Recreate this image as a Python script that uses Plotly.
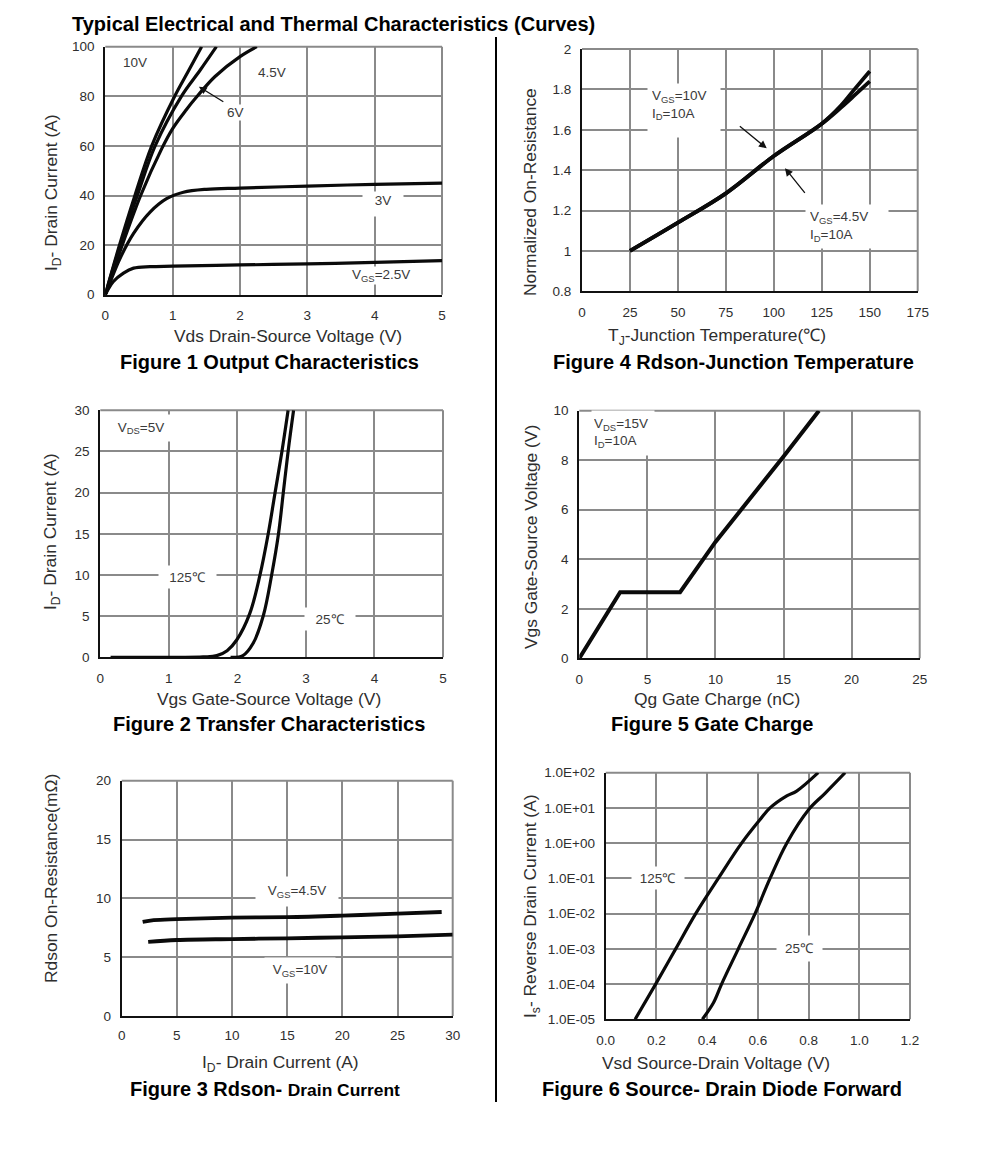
import plotly.graph_objects as go

W, H = 991, 1149
FONT = "Liberation Sans, Arial, sans-serif"
TXT = "#2e2e2e"
GRID = "#8a8a8a"

# ---- Figure 1: output characteristics
f1_10v_x = [0, 0.2, 0.44, 0.69, 1.03, 1.23, 1.43]
f1_10v_y = [0, 19, 40, 60, 80, 90, 100]
f1_6v_x = [0, 0.2, 0.475, 0.74, 1.13, 1.41, 1.65]
f1_6v_y = [0, 18, 40, 60, 80, 90.6, 100]
f1_45v_x = [0, 0.2, 0.525, 0.84, 1.0, 1.2, 1.38, 1.63, 2.0, 2.25]
f1_45v_y = [0, 16, 40, 59, 67, 74.5, 80.5, 88, 96, 100]
f1_3v_x = [0, 0.1, 0.22, 0.42, 0.665, 0.91, 1.16, 1.5, 2, 3, 4, 5]
f1_3v_y = [0, 7, 14.7, 24.7, 33.3, 38.7, 41.3, 42.5, 43, 43.8, 44.5, 45]
f1_25v_x = [0, 0.12, 0.27, 0.42, 0.665, 1, 2, 3, 4, 5]
f1_25v_y = [0, 5.3, 8.7, 10.7, 11.3, 11.5, 12, 12.4, 13, 13.7]

# ---- Figure 2: transfer characteristics
f2_125_x = [0.15, 1.5, 1.7, 1.85, 1.99, 2.18, 2.33, 2.45, 2.55, 2.65, 2.74]
f2_125_y = [0, 0.05, 0.2, 0.8, 2.1, 5.3, 10, 15, 20, 25, 30]
f2_25_x = [1.9, 2.08, 2.23, 2.38, 2.5, 2.6, 2.67, 2.74, 2.82]
f2_25_y = [0, 0.2, 1.7, 5.1, 10, 15, 20, 25, 30]

# ---- Figure 3: Rdson vs drain current
f3_45_x = [1.9, 2.9, 5, 10, 15, 20, 25, 29]
f3_45_y = [8.0, 8.15, 8.24, 8.36, 8.4, 8.53, 8.7, 8.84]
f3_10_x = [2.4, 5, 10, 15, 20, 25, 30]
f3_10_y = [6.3, 6.46, 6.54, 6.6, 6.69, 6.77, 6.91]

# ---- Figure 4: Rdson vs temperature
f4_10_x = [25, 50, 75, 100, 125, 135, 142, 150]
f4_10_y = [1, 1.14, 1.285, 1.47, 1.63, 1.72, 1.80, 1.89]
f4_45_x = [25, 50, 75, 100, 125, 135, 142, 150]
f4_45_y = [1, 1.14, 1.285, 1.47, 1.63, 1.71, 1.77, 1.84]

# ---- Figure 5: gate charge
f5_x = [0, 3, 7.4, 10, 15, 17.6]
f5_y = [0, 2.67, 2.67, 4.7, 8.15, 10]

# ---- Figure 6: source-drain diode forward
f6_125_x = [0.116, 0.197, 0.276, 0.355, 0.444, 0.536, 0.608, 0.648, 0.714, 0.753, 0.838]
f6_125_y = [1e-5, 1e-4, 1e-3, 1e-2, 1e-1, 1, 4.6, 10, 22, 30, 100]
f6_25_x = [0.381, 0.425, 0.457, 0.523, 0.589, 0.648, 0.714, 0.80, 0.865, 0.944]
f6_25_y = [1e-5, 2.95e-5, 1e-4, 1e-3, 1e-2, 1e-1, 1, 8.9, 26, 100]
f6_ticks = [1e-5, 1e-4, 1e-3, 1e-2, 1e-1, 1, 10, 100]
f6_labels = ["1.0E-05", "1.0E-04", "1.0E-03", "1.0E-02", "1.0E-01", "1.0E+00", "1.0E+01", "1.0E+02"]

fig = go.Figure()


def px_x(v):
    return v / W


def px_y(v):
    return 1 - v / H


def add_axes(n, box, xr, yr, dx, dy, xlab=21, ylab=6, ytype="linear", ytickvals=None, yticktext=None, xfmt=None):
    l, r, t, b = box
    sx = "" if n == 1 else str(n)
    xa = dict(domain=[px_x(l), px_x(r)], range=xr, dtick=dx, tick0=0, anchor="y" + sx, automargin=False,
              showgrid=True, gridcolor=GRID, gridwidth=2, zeroline=False,
              showline=True, linecolor="#111111", linewidth=2,
              ticks="outside", ticklen=xlab - 14, tickcolor="rgba(0,0,0,0)",
              tickfont=dict(family=FONT, size=13.5, color=TXT), layer="below traces")
    if xfmt:
        xa["tickformat"] = xfmt
    ya = dict(domain=[px_y(b), px_y(t)], range=yr, anchor="x" + sx, type=ytype, automargin=False,
              showgrid=True, gridcolor=GRID, gridwidth=2, zeroline=False,
              showline=True, linecolor="#111111", linewidth=2,
              ticks="outside", ticklen=ylab, tickcolor="rgba(0,0,0,0)",
              tickfont=dict(family=FONT, size=13.5, color=TXT), layer="below traces")
    if ytickvals:
        ya.update(tickmode="array", tickvals=ytickvals, ticktext=yticktext)
    else:
        ya.update(dtick=dy, tick0=0)
    fig.update_layout({f"xaxis{sx}": xa, f"yaxis{sx}": ya})
    fig.add_shape(type="line", xref=f"x{sx} domain", yref=f"y{sx} domain", x0=0, x1=1, y0=1, y1=1,
                  line=dict(color=GRID, width=2), layer="below")
    fig.add_shape(type="line", xref=f"x{sx} domain", yref=f"y{sx} domain", x0=1, x1=1, y0=0, y1=1,
                  line=dict(color=GRID, width=2), layer="below")


def curve(n, x, y, name, width=3.2, shape="spline"):
    sx = "" if n == 1 else str(n)
    line = dict(color="#0a0a0a", width=width, shape=shape)
    if shape == "spline":
        line["smoothing"] = 1.0
    fig.add_trace(go.Scatter(x=x, y=y, mode="lines", name=name, xaxis="x" + sx, yaxis="y" + sx,
                             line=line, showlegend=False, hoverinfo="skip"))


def label(n, x, y, text, w=None, h=None, align="center", valign="middle", pad=1, size=13.5):
    sx = "" if n == 1 else str(n)
    kw = {}
    if w:
        kw.update(width=w)
    if h:
        kw.update(height=h)
    fig.add_annotation(xref="x" + sx, yref="y" + sx, x=x, y=y, text=text, showarrow=False,
                       font=dict(family=FONT, size=size, color="#3a3a3a"), bgcolor="white",
                       align=align, valign=valign, borderpad=pad, **kw)


def arrow(n, x0, y0, x1, y1):
    sx = "" if n == 1 else str(n)
    fig.add_annotation(xref="x" + sx, yref="y" + sx, axref="x" + sx, ayref="y" + sx, x=x1, y=y1, ax=x0, ay=y0,
                       text="", showarrow=True, arrowhead=2, arrowsize=1.2, arrowwidth=1.3, arrowcolor="#111111")


def ptext(cx, cy, text, size=17.4, bold=False, angle=0, anchor="center", color=TXT):
    fig.add_annotation(xref="paper", yref="paper", x=px_x(cx), y=px_y(cy), text=f"<b>{text}</b>" if bold else text,
                       showarrow=False, xanchor=anchor, yanchor="middle", textangle=angle,
                       font=dict(family=FONT, size=size, color=color), borderpad=0)


add_axes(1, (105.3, 442, 46.7, 294.7), [0, 5], [0, 100], 1, 20)
add_axes(2, (100.3, 443, 410.3, 657.3), [0, 5], [0, 30], 1, 5)
add_axes(3, (121.7, 452.7, 780.7, 1016), [0, 30], [0, 20], 5, 5, xlab=20)
add_axes(4, (582, 917.7, 49, 291.3), [0, 175], [0.8, 2], 25, 0.2, ytickvals=[0.8, 1, 1.2, 1.4, 1.6, 1.8, 2],
         yticktext=["0.8", "1", "1.2", "1.4", "1.6", "1.8", "2"])
add_axes(5, (579.3, 919.7, 410.7, 658.3), [0, 25], [0, 10], 5, 2)
add_axes(6, (605.7, 910, 772.7, 1019.3), [0, 1.2], [-5, 2], 0.2, None, ytype="log",
         ytickvals=f6_ticks, yticktext=f6_labels, xfmt=".1f")

curve(1, f1_10v_x, f1_10v_y, "10V")
curve(1, f1_6v_x, f1_6v_y, "6V")
curve(1, f1_45v_x, f1_45v_y, "4.5V")
curve(1, f1_3v_x, f1_3v_y, "3V")
curve(1, f1_25v_x, f1_25v_y, "VGS=2.5V")
curve(2, f2_125_x, f2_125_y, "125C")
curve(2, f2_25_x, f2_25_y, "25C")
curve(3, f3_45_x, f3_45_y, "VGS=4.5V", width=3.8)
curve(3, f3_10_x, f3_10_y, "VGS=10V", width=3.8)
curve(4, f4_10_x, f4_10_y, "VGS=10V", width=3.8)
curve(4, f4_45_x, f4_45_y, "VGS=4.5V", width=3.8)
curve(5, f5_x, f5_y, "Vgs", width=4, shape="linear")
curve(6, f6_125_x, f6_125_y, "125C")
curve(6, f6_25_x, f6_25_y, "25C")

# in-plot labels
label(1, 0.44, 93.5, "10V")
label(1, 2.47, 89.6, "4.5V")
label(1, 1.94, 73.5, "6V", pad=0)
label(1, 4.13, 36.5, "3V", w=38, h=22, valign="top")
label(1, 4.1, 7.7, "V<sub>GS</sub>=2.5V", pad=0)
arrow(1, 1.775, 77.4, 1.39, 83.9)

label(2, 0.6, 27.8, "V<sub>DS</sub>=5V", w=56, h=24)
label(2, 1.27, 9.8, "125℃", w=55, h=20)
label(2, 3.35, 4.6, "25℃", w=48, h=20)

label(3, 15.9, 10.6, "V<sub>GS</sub>=4.5V", w=80, h=27)
label(3, 16.2, 3.85, "V<sub>GS</sub>=10V", w=68, h=23)

label(4, 53.4, 1.695, "V<sub>GS</sub>=10V<br>I<sub>D</sub>=10A", w=64, h=45, align="left", valign="top", pad=4)
label(4, 138.3, 1.12, "V<sub>GS</sub>=4.5V<br>I<sub>D</sub>=10A", w=74, h=35, align="left", pad=4)
arrow(4, 81.5, 1.623, 96.3, 1.508)
arrow(4, 116.8, 1.28, 105.8, 1.41)

label(5, 3.2, 9.08, "V<sub>DS</sub>=15V<br>I<sub>D</sub>=10A", w=58, h=40, align="left", pad=2)

label(6, 0.208, -1.0, "125℃", w=50, h=20)
label(6, 0.766, -3.0, "25℃", w=43, h=23)

# axis titles
ptext(288, 336, "Vds Drain-Source Voltage (V)")
ptext(52, 193, "I<sub>D</sub>- Drain Current (A)", angle=-90)
ptext(717, 336, "T<sub>J</sub>-Junction Temperature(℃)")
ptext(530, 192, "Normalized On-Resistance", angle=-90)
ptext(269, 699, "Vgs Gate-Source Voltage (V)")
ptext(52, 532, "I<sub>D</sub>- Drain Current (A)", angle=-90)
ptext(717, 699, "Qg Gate Charge (nC)")
ptext(531, 537, "Vgs Gate-Source Voltage (V)", angle=-90)
ptext(280, 1063, "I<sub>D</sub>- Drain Current (A)")
ptext(51, 879, "Rdson On-Resistance(mΩ)", angle=-90)
ptext(716, 1063, "Vsd Source-Drain Voltage (V)")
ptext(531, 906, "I<sub>s</sub>- Reverse Drain Current (A)", angle=-90)

# figure captions
CAP = 20
ptext(269, 362, "Figure 1 Output Characteristics", size=CAP, bold=True, color="#000")
ptext(733, 362, "Figure 4 Rdson-Junction Temperature", size=CAP, bold=True, color="#000")
ptext(269, 724, "Figure 2 Transfer Characteristics", size=CAP, bold=True, color="#000")
ptext(712, 724, "Figure 5 Gate Charge", size=CAP, bold=True, color="#000")
ptext(265, 1089, 'Figure 3 Rdson- <span style="font-size:17.4px">Drain Current</span>', size=CAP, bold=True, color="#000")
ptext(722, 1089, "Figure 6 Source- Drain Diode Forward", size=CAP, bold=True, color="#000")
ptext(71, 24, "Typical Electrical and Thermal Characteristics (Curves)", size=CAP, bold=True, anchor="left", color="#000")

# vertical divider between columns
fig.add_shape(type="line", xref="paper", yref="paper", x0=px_x(496), x1=px_x(496), y0=px_y(37), y1=px_y(1102),
              line=dict(color="#000000", width=2))

fig.update_layout(width=W, height=H, margin=dict(l=0, r=0, t=0, b=0, autoexpand=False), paper_bgcolor="white",
                  plot_bgcolor="white", showlegend=False, font=dict(family=FONT))

fig.write_html("out.html", config=dict(displayModeBar=False),
               post_script="document.body.style.margin='0';document.documentElement.style.overflow='hidden';")
